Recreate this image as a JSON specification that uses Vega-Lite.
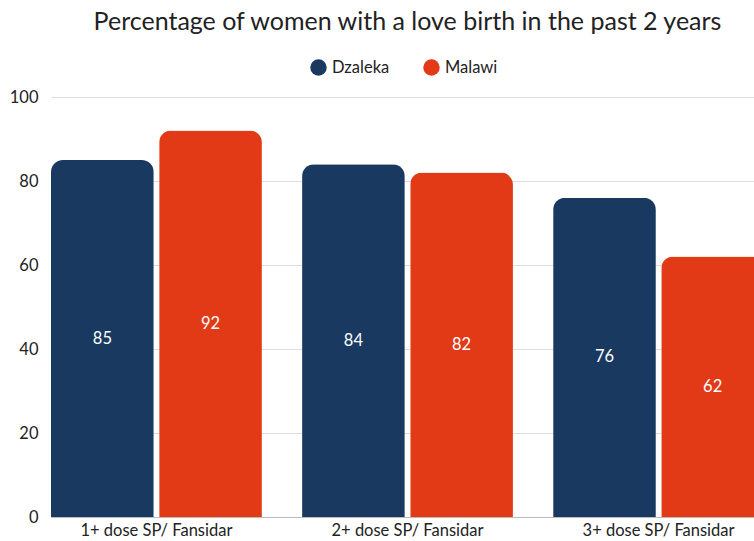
{
  "$schema": "https://vega.github.io/schema/vega-lite/v6.json",
  "autosize": "none",
  "width": 713,
  "height": 420,
  "padding": {"left": 51, "top": 97, "right": -10, "bottom": 24},
  "background": "white",
  "config": {
    "font": "Lato",
    "view": {"stroke": null}
  },
  "title": {
    "text": "Percentage of women with a love birth in the past 2 years",
    "fontSize": 25,
    "font": "Lato",
    "fontWeight": "normal",
    "color": "#222222",
    "anchor": "middle",
    "offset": 24
  },
  "data": {
    "values": [
      {"dose": "1+ dose SP/ Fansidar", "group": "Dzaleka", "value": 85},
      {"dose": "1+ dose SP/ Fansidar", "group": "Malawi", "value": 92},
      {"dose": "2+ dose SP/ Fansidar", "group": "Dzaleka", "value": 84},
      {"dose": "2+ dose SP/ Fansidar", "group": "Malawi", "value": 82},
      {"dose": "3+ dose SP/ Fansidar", "group": "Dzaleka", "value": 76},
      {"dose": "3+ dose SP/ Fansidar", "group": "Malawi", "value": 62}
    ]
  },
  "encoding": {
    "x": {
      "field": "dose",
      "type": "nominal",
      "title": null,
      "scale": {"paddingInner": 0.16, "paddingOuter": 0},
      "axis": {
        "labelAngle": 0,
        "labelFontSize": 16.5,
        "labelColor": "#222222",
        "labelPadding": 5,
        "ticks": false,
        "domainColor": "#bbbbbb",
        "domainWidth": 1
      }
    },
    "xOffset": {
      "field": "group",
      "type": "nominal",
      "scale": {"paddingInner": 0.05}
    }
  },
  "layer": [
    {
      "mark": {"type": "bar", "cornerRadiusTopLeft": 12, "cornerRadiusTopRight": 12},
      "encoding": {
        "y": {
          "field": "value",
          "type": "quantitative",
          "title": null,
          "scale": {"domain": [0, 100]},
          "axis": {
            "values": [0, 20, 40, 60, 80, 100],
            "labelOverlap": false,
            "labelFontSize": 16.5,
            "labelColor": "#222222",
            "labelPadding": 13,
            "ticks": false,
            "domain": false,
            "gridColor": "#dddddd"
          }
        },
        "color": {
          "field": "group",
          "type": "nominal",
          "scale": {"domain": ["Dzaleka", "Malawi"], "range": ["#1a3960", "#e23a16"]},
          "legend": {
            "title": null,
            "orient": "none",
            "direction": "horizontal",
            "legendX": 259,
            "legendY": -38,
            "symbolType": "circle",
            "symbolSize": 270,
            "symbolStrokeWidth": 0,
            "labelFontSize": 16.5,
            "labelColor": "#222222",
            "labelOffset": 5,
            "columnPadding": 33
          }
        }
      }
    },
    {
      "mark": {"type": "text", "color": "white", "fontSize": 16.5, "baseline": "middle"},
      "encoding": {
        "y": {
          "field": "value",
          "type": "quantitative",
          "scale": {"domain": [0, 200]},
          "axis": null
        },
        "text": {"field": "value", "type": "quantitative"}
      }
    }
  ],
  "resolve": {"scale": {"y": "independent"}}
}
